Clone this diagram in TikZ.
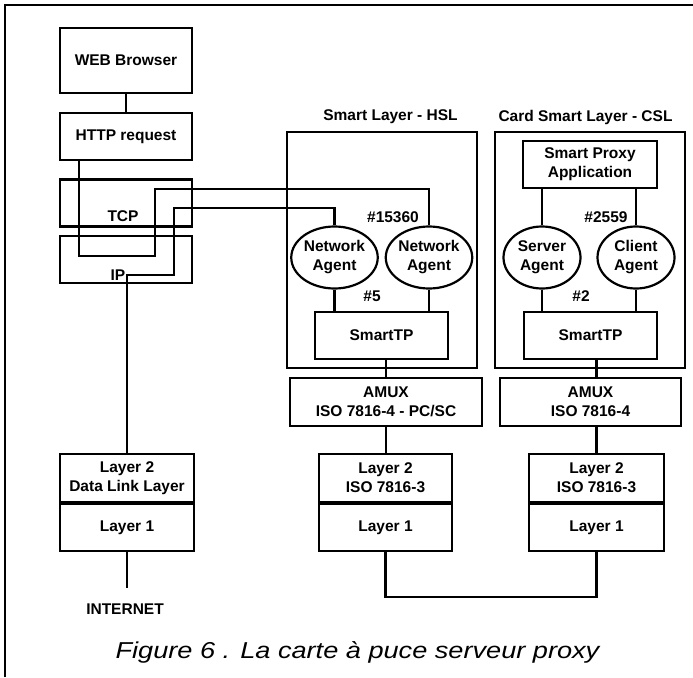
\documentclass[tikz,border=0pt]{standalone}
\usepackage{fontspec}
\setmainfont{Liberation Sans}
\usetikzlibrary{positioning,calc,shapes.geometric}

\tikzset{
  layerbox/.style={draw,line width=2.2pt,align=center,inner sep=0pt},
  agent/.style={draw,ellipse,line width=2.2pt,align=center,inner sep=0pt,
                minimum width=77pt,minimum height=62pt},
  frame/.style={draw,line width=2.2pt},
  link/.style={line width=2.2pt}
}

\begin{document}
\begin{tikzpicture}[x=1pt,y=-1pt,font=\fontsize{15.5}{19}\selectfont\bfseries]
\useasboundingbox (0,0) rectangle (693,677);
% outer frame
\draw[line width=2.6pt] (5,677) -- (5,5) -- (693,5);
% host stack
\node[layerbox,minimum width=132pt,minimum height=65pt] (web) at (126,60.5) {WEB Browser};
\node[layerbox,minimum width=132pt,minimum height=47pt] (http) at (126,136.5) {HTTP request};
\node[layerbox,minimum width=132pt,minimum height=47pt] (tcp) at (126,203) {};
\node[layerbox,minimum width=132pt,minimum height=47pt] (ip) at (126,259.5) {};
\node (tcptxt) at (123,216) {TCP};
\node (iptxt) at (118,275) {IP};
\draw[link] (web) -- (http);
% Smart Layer - HSL
\node[frame,minimum width=190pt,minimum height=236pt] (hsl) at (382,250) {};
\node (hsltitle) at (390.5,117) {Smart Layer - HSL};
\node[agent] (na1) at (334.5,257.5) {Network\\Agent};
\node[agent] (na2) at (429,257.5) {Network\\Agent};
\node[layerbox,minimum width=133pt,minimum height=47pt] (stpb) at (381.5,335.5) {SmartTP};
\node (p15360) at (393,217) {\#15360};
\node (p5) at (372,296) {\#5};
% Card Smart Layer - CSL
\node[frame,minimum width=190pt,minimum height=236pt] (csl) at (590,250) {};
\node (csltitle) at (585.5,117) {Card Smart Layer - CSL};
\node[layerbox,minimum width=134pt,minimum height=47pt] (proxy) at (590,164.5) {Smart Proxy\\Application};
\node[agent] (sa) at (542,257.5) {Server\\Agent};
\node[agent] (ca) at (636,257.5) {Client\\Agent};
\node[layerbox,minimum width=133pt,minimum height=47pt] (stpc) at (590.5,335.5) {SmartTP};
\node (p2559) at (606,217) {\#2559};
\node (p2) at (581,296) {\#2};
% AMUX
\node[layerbox,minimum width=192pt,minimum height=48pt] (amuxb) at (386,402) {AMUX\\ISO 7816-4 - PC/SC};
\node[layerbox,minimum width=181pt,minimum height=48pt] (amuxc) at (590.5,402) {AMUX\\ISO 7816-4};
% layer 2 / layer 1
\node[layerbox,minimum width=134pt,minimum height=48pt] (l2a) at (127,478) {Layer 2\\Data Link Layer};
\node[layerbox,minimum width=134pt,minimum height=47pt,below=0pt of l2a] (l1a) {Layer 1};
\node[layerbox,minimum width=133pt,minimum height=48pt] (l2b) at (385.5,478) {Layer 2\\ISO 7816-3};
\node[layerbox,minimum width=133pt,minimum height=47pt,below=0pt of l2b] (l1b) {Layer 1};
\node[layerbox,minimum width=135pt,minimum height=48pt] (l2c) at (596.5,478) {Layer 2\\ISO 7816-3};
\node[layerbox,minimum width=135pt,minimum height=47pt,below=0pt of l2c] (l1c) {Layer 1};
\node (inet) at (125,609) {INTERNET};
% TCP/IP to network agents
\coordinate (httpdrop) at (79,256);
\coordinate (httpturn) at (155,256);
\coordinate (httprun) at (155,189);
\coordinate (ipport) at (127,275);
\coordinate (ipturn) at (174,275);
\coordinate (iprun) at (174,208);
\draw[link] (http.south -| httpdrop) -- (httpdrop) -- (httpturn) -- (httprun) -| (na2.north);
\draw[link] (l2a.north) -- (l2a.north |- ipport) -- (ipturn) -- (iprun) -| (na1.north);
% agents
\foreach \a/\b in {na1/stpb,na2/stpb,sa/stpc,ca/stpc}
  \draw[link] (\a.south) -- (\a.south |- \b.north);
\draw[link] (sa.north) -- (sa.north |- proxy.south);
\draw[link] (ca.north) -- (ca.north |- proxy.south);
% down the stacks
\draw[link] (amuxb.north) -- (amuxb.north |- stpb.south);
\draw[link] (amuxb.south) -- (amuxb.south |- l2b.north);
\draw[link] (l2c.north |- amuxc.north) -- (l2c.north |- stpc.south);
\draw[link] (l2c.north) -- (l2c.north |- amuxc.south);
\coordinate (netend) at (0,588);
\coordinate (cardbus) at (0,597);
\draw[link] (l1a.south) -- (l1a.south |- netend);
\draw[link] (l1b.south) -- (l1b.south |- cardbus) -| (l1c.south);
% caption
\node[font=\fontsize{23}{26}\selectfont\itshape] (caption) at (357.5,652)
  {\scalebox{1.18}[1]{Figure 6 . La carte à puce serveur proxy}};
\end{tikzpicture}
\end{document}
